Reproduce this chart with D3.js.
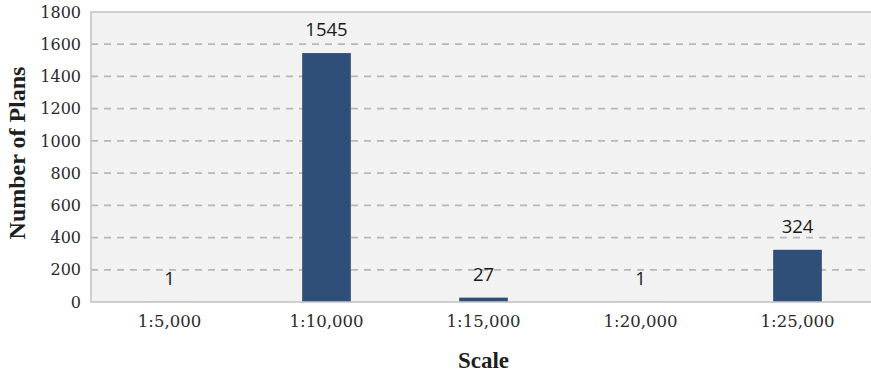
<!DOCTYPE html>
<html>
<head>
<meta charset="utf-8">
<script src="https://cdn.jsdelivr.net/npm/d3@7"></script>
<style>
  html, body { margin: 0; padding: 0; background: #ffffff; }
  svg { display: block; }
</style>
</head>
<body>
<svg id="chart" width="871" height="375"></svg>
<script>
// Plans counted per map scale
const scales = ["1:5,000", "1:10,000", "1:15,000", "1:20,000", "1:25,000"];
const planCounts = [1, 1545, 27, 1, 324];
const yTicks = [0, 200, 400, 600, 800, 1000, 1200, 1400, 1600, 1800];

const svg = d3.select("#chart");
const plot = { left: 91, right: 876, top: 12, bottom: 302 };

const x = d3.scaleBand()
  .domain(scales)
  .range([plot.left, plot.right])
  .padding(0);

const y = d3.scaleLinear()
  .domain([0, 1800])
  .range([plot.bottom, plot.top]);

const barWidth = x.bandwidth() * 0.31;

// plot background
svg.append("rect")
  .attr("x", plot.left)
  .attr("y", plot.top)
  .attr("width", plot.right - plot.left)
  .attr("height", plot.bottom - plot.top)
  .attr("fill", "#f2f2f2");

// dashed horizontal gridlines
svg.append("g")
  .selectAll("line")
  .data(yTicks.filter(t => t > 0 && t < 1800))
  .join("line")
  .attr("x1", plot.left)
  .attr("x2", plot.right)
  .attr("y1", d => y(d))
  .attr("y2", d => y(d))
  .attr("stroke", "#b8b8b8")
  .attr("stroke-width", 1.8)
  .attr("stroke-dasharray", "7,6");

// bars
svg.append("g")
  .selectAll("rect")
  .data(scales.map((s, i) => ({ s, v: planCounts[i] })))
  .join("rect")
  .attr("x", d => x(d.s) + (x.bandwidth() - barWidth) / 2)
  .attr("y", d => y(d.v))
  .attr("width", barWidth)
  .attr("height", d => y(0) - y(d.v))
  .attr("fill", "#2f4e78");

// plot frame
svg.append("rect")
  .attr("x", plot.left)
  .attr("y", plot.top)
  .attr("width", plot.right - plot.left)
  .attr("height", plot.bottom - plot.top)
  .attr("fill", "none")
  .attr("stroke", "#c4c4c4")
  .attr("stroke-width", 1.6);

// value labels above bars
svg.append("g")
  .selectAll("text")
  .data(scales.map((s, i) => ({ s, v: planCounts[i] })))
  .join("text")
  .attr("x", d => x(d.s) + x.bandwidth() / 2)
  .attr("y", d => y(d.v) - 17)
  .attr("text-anchor", "middle")
  .attr("font-family", "'Open Sans', sans-serif")
  .attr("font-size", 18.5)
  .attr("fill", "#1a1a1a")
  .text(d => d.v);

// y axis
const yAxis = d3.axisLeft(y)
  .tickValues(yTicks)
  .tickSize(0)
  .tickPadding(10)
  .tickFormat(d3.format("d"));

svg.append("g")
  .attr("transform", `translate(${plot.left},0)`)
  .call(yAxis)
  .call(g => g.select(".domain").remove())
  .selectAll("text")
  .attr("font-family", "'DejaVu Serif', serif")
  .attr("font-size", 16)
  .attr("fill", "#2a2a2a");

// x axis
const xAxis = d3.axisBottom(x)
  .tickSize(0)
  .tickPadding(13);

svg.append("g")
  .attr("transform", `translate(0,${plot.bottom})`)
  .call(xAxis)
  .call(g => g.select(".domain").remove())
  .selectAll("text")
  .attr("font-family", "'DejaVu Serif', serif")
  .attr("font-size", 16.5)
  .attr("fill", "#2a2a2a");

// axis titles
svg.append("text")
  .attr("x", (plot.left + plot.right) / 2)
  .attr("y", 368)
  .attr("text-anchor", "middle")
  .attr("font-family", "'Liberation Serif', serif")
  .attr("font-weight", "bold")
  .attr("font-size", 23)
  .attr("fill", "#1e1e1e")
  .text("Scale");

svg.append("text")
  .attr("transform", `translate(25,${(plot.top + plot.bottom) / 2 - 4}) rotate(-90)`)
  .attr("text-anchor", "middle")
  .attr("font-family", "'Liberation Serif', serif")
  .attr("font-weight", "bold")
  .attr("font-size", 24)
  .attr("fill", "#1e1e1e")
  .text("Number of Plans");
</script>
</body>
</html>
